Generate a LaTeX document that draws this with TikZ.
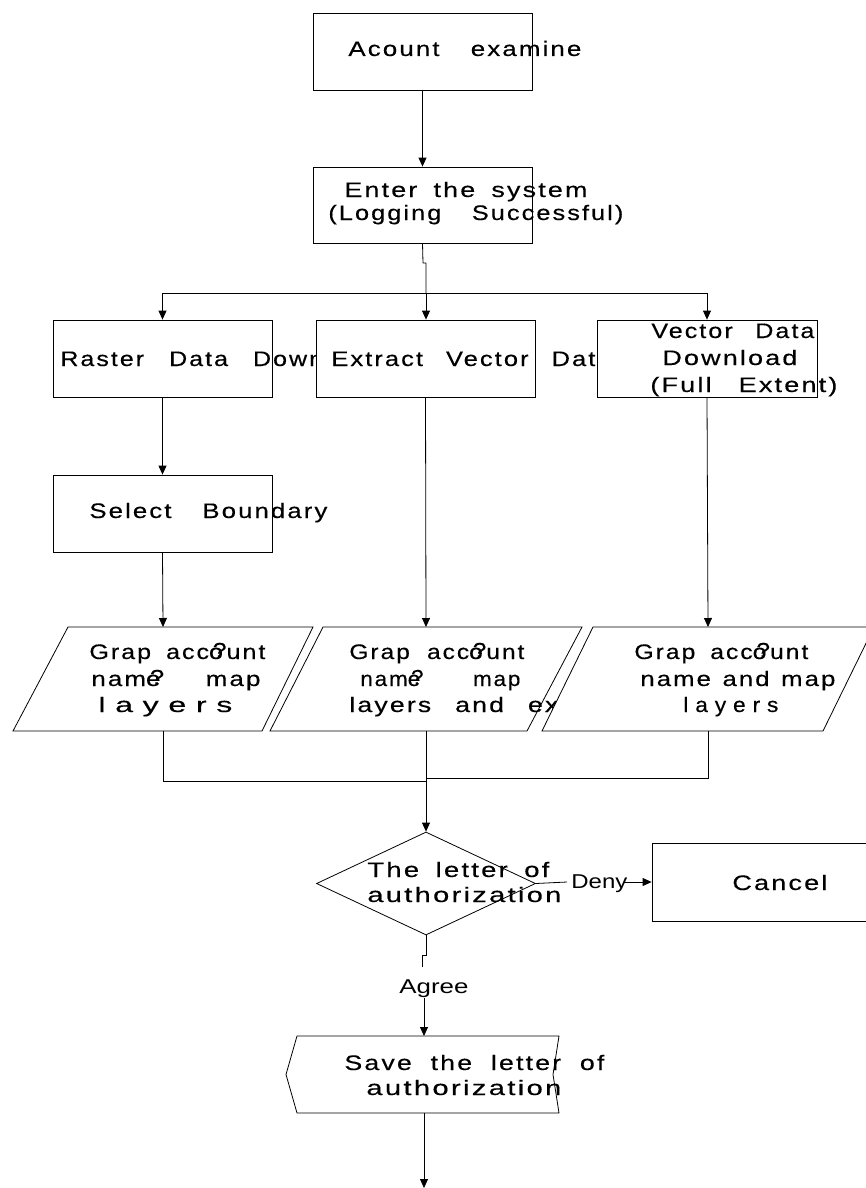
\documentclass[tikz,border=0pt]{standalone}
\usepackage{fontspec}
\usepackage{graphicx}
\setmainfont{Liberation Sans}
\newfontfamily\spc[LetterSpace=8,FakeBold=0.3]{Liberation Sans}
\newfontfamily\spcw[LetterSpace=30,FakeBold=0.3]{Liberation Sans}
\usetikzlibrary{arrows.meta,shapes.geometric}
% set a line of text to a given width (pt), keeping its height
\newcommand\fitw[2]{\resizebox{#1pt}{\height}{#2}}
% a letter with a stray question mark printed over it
\newcommand\qover[1]{\makebox[0pt][l]{#1}\kern3pt\raisebox{1.5pt}{?}}

\begin{document}
\begin{tikzpicture}[x=1pt,y=-1pt,
  line width=0.8pt,
  box/.style={draw, fill=white, rectangle, inner sep=0pt},
  lbl/.style={inner sep=0pt, anchor=base west, font=\fontsize{21}{24}\spc},
  note/.style={inner sep=0pt, anchor=base west, font=\fontsize{20}{24}\selectfont},
  flow/.style={-{Triangle[length=9pt,width=8pt]}},
]
\useasboundingbox (0,0) rectangle (865,1188);

% ---- login ----
\node[box, minimum width=219pt, minimum height=77pt] (acc) at (422.5,51.5) {};
\node[lbl] (accT) at (348,56) {\fitw{233}{Acount\hspace{1.2em}examine}};

\node[box, minimum width=219pt, minimum height=76pt] (sys) at (422.5,205) {};
\node[lbl] (sysA) at (344,197) {\fitw{243}{Enter\hspace{.6em}the\hspace{.6em}system}};
\node[lbl] (sysB) at (328,220) {\fitw{295}{(Logging\hspace{1.2em}Successful)}};

\draw[flow] (acc.south) -- (sys.north);

% ---- three download options ----
\node[box, minimum width=219pt, minimum height=77pt] (ras) at (162.5,358.5) {};
\node[lbl] (rasT) at (60,366) {\fitw{318}{Raster\hspace{1em}Data\hspace{1em}Download}};

\node[box, minimum width=219pt, minimum height=77pt] (ext) at (425.5,358.5) {};
\node[lbl] (extT) at (331,366) {\fitw{431}{Extract\hspace{.9em}Vector\hspace{.9em}Data\hspace{.9em}Download}};

\node[box, minimum width=220pt, minimum height=77pt] (vec) at (707,358.5) {};
\node[lbl] (vecA) at (651,338) {\fitw{163}{Vector\hspace{.9em}Data}};
\node[lbl] (vecB) at (662,365) {\fitw{135}{Download}};
\node[lbl] (vecC) at (650,392) {\fitw{187}{(Full\hspace{1em}Extent)}};

% split below the login box
\coordinate (kink1) at (423,263);
\coordinate (kink2) at (426,263);
\coordinate (split) at (426,293);
\draw[line join=bevel] (sys.south) -- (kink1) -- (kink2) -- (split);
\draw (split -| ras.north) -- (split -| vec.north);
\draw[flow] (split -| ras.north) -- (ras.north);
\draw[flow] (split) -- (split |- ext.north);
\draw[flow] (split -| vec.north) -- (vec.north);

% ---- boundary selection ----
\node[box, minimum width=219pt, minimum height=77pt] (bnd) at (162.5,513.5) {};
\node[lbl] (bndT) at (89,518) {\fitw{238}{Select\hspace{1.2em}Boundary}};
\draw[flow] (ras.south) -- (bnd.north);

% ---- grab account name and map layers ----
\coordinate (g1top) at (163,627);  \coordinate (g1bot) at (163,731);
\coordinate (g2top) at (426,627);  \coordinate (g2bot) at (426,731);
\coordinate (g3top) at (708,627);  \coordinate (g3bot) at (708,731);

\filldraw[fill=white] (68,627) -- (313,627) -- (262,731) -- (13,731) -- cycle;
\node[lbl] (g1a) at (89,659) {\fitw{176}{Grap\hspace{.6em}acc\qover{o}unt}};
\node[lbl] (g1b) at (91,686) {\fitw{169}{nam\qover{e}\hspace{1.6em}map}};
\node[lbl, font=\fontsize{21}{24}\spcw] (g1c) at (98,712) {\fitw{134}{layers}};

\filldraw[fill=white] (323,627) -- (582,627) -- (527,731) -- (270,731) -- cycle;
\node[lbl] (g2a) at (349,659) {\fitw{175}{Grap\hspace{.7em}acc\qover{o}unt}};
\node[lbl] (g2b) at (360,686) {\fitw{160}{nam\qover{e}\hspace{2.2em}map}};
\node[lbl] (g2c) at (349,712) {\fitw{262}{layers\hspace{.9em}and\hspace{.9em}extent}};

\filldraw[fill=white] (593,627) -- (874,627) -- (823,731) -- (542,731) -- cycle;
\node[lbl] (g3a) at (634,659) {\fitw{174}{Grap\hspace{.6em}acc\qover{o}unt}};
\node[lbl] (g3b) at (640,686) {\fitw{195}{name\hspace{.45em}and\hspace{.45em}map}};
\node[lbl, font=\fontsize{21}{24}\spcw] (g3c) at (683,712) {\fitw{95}{layers}};

\draw[flow] (bnd.south) -- (g1top);
\draw[flow] (ext.south) -- (g2top);
\draw[flow] (vec.south) -- (g3top);

% join
\coordinate (j1) at (163,781);
\coordinate (j3) at (708,778);
\draw (g1bot) -- (j1) -- (g2bot |- j1);
\draw (g3bot) -- (j3) -- (g2bot |- j3);

% ---- authorization decision ----
\node[draw, diamond, minimum width=219pt, minimum height=103pt, inner sep=0pt] (dec) at (426,883.5) {};
\node[lbl] (decA) at (367,877) {\fitw{182}{The\hspace{.6em}letter\hspace{.6em}of}};
\node[lbl] (decB) at (367,902) {\fitw{194}{authorization}};
\draw[flow] (g2bot) -- (dec.north);

\node[box, minimum width=214pt, minimum height=78pt] (can) at (759,882) {};
\node[lbl] (canT) at (732,890) {\fitw{95}{Cancel}};

\node[note] (deny) at (571,888) {\fitw{56}{Deny}};
\coordinate (denyL) at (567,882);
\coordinate (denyR) at (624,882);
\draw (dec.east) -- (denyL);
\draw[flow] (denyR) -- (can.west);

% agree branch
\coordinate (ag1) at (426,955);
\coordinate (ag2) at (422,955);
\coordinate (ag3) at (422,967);
\draw (dec.south) -- (ag1) -- (ag2) -- (ag3);
\node[note] (agree) at (399,993) {\fitw{69}{Agree}};

% ---- save the letter ----
\coordinate (svtop) at (424,1036);
\coordinate (svbot) at (424,1113);
\coordinate (agout) at (424,998);
\filldraw[fill=white] (297,1036) -- (559,1036) -- (553,1074.5) -- (559,1113)
  -- (297,1113) -- (286,1074.5) -- cycle;
\node[lbl] (svA) at (344,1070) {\fitw{260}{Save\hspace{.7em}the\hspace{.7em}letter\hspace{.7em}of}};
\node[lbl] (svB) at (366,1095) {\fitw{195}{authorization}};
\draw[flow] (agout) -- (svtop);

\coordinate (fin) at (424,1188);
\draw[flow] (svbot) -- (fin);
\end{tikzpicture}
\end{document}
